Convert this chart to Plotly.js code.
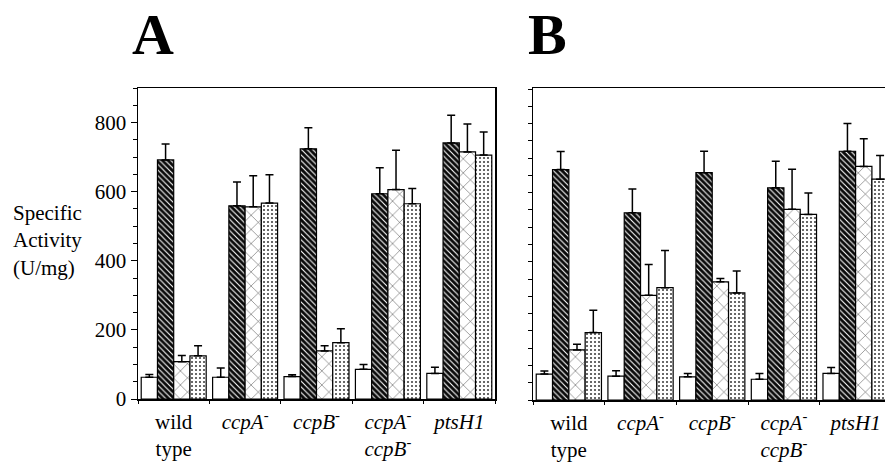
<!DOCTYPE html>
<html>
<head>
<meta charset="utf-8">
<script src="https://cdn.plot.ly/plotly-3.0.1.min.js"></script>
<style>html,body{margin:0;padding:0;background:#fff}#chart{width:885px;height:465px}</style>
</head>
<body>
<div id="chart"></div>
<script>
// ---- data ----
const groups = ['wild type', 'ccpA-', 'ccpB-', 'ccpA- ccpB-', 'ptsH1'];
const groupLabels = ['wild<br>type', '<i>ccpA</i><sup>-</sup>', '<i>ccpB</i><sup>-</sup>',
  '<i>ccpA</i><sup>-</sup><br><i>ccpB</i><sup>-</sup>', '<i>ptsH1</i>'];
const seriesNames = ['open', 'hatched', 'zigzag', 'dotted'];

// Panel A values and upper error
const aOpen = [63, 63, 65, 86, 74];
const aOpenErr = [8, 27, 5, 14, 18];
const aHatch = [692, 559, 724, 594, 741];
const aHatchErr = [46, 69, 61, 75, 80];
const aZig = [108, 556, 139, 606, 715];
const aZigErr = [18, 90, 15, 114, 81];
const aDot = [125, 567, 163, 565, 706];
const aDotErr = [29, 82, 40, 44, 67];

// Panel B values and upper error
const bOpen = [75, 69, 67, 60, 77];
const bOpenErr = [9, 16, 10, 17, 17];
const bHatch = [667, 542, 658, 614, 720];
const bHatchErr = [52, 69, 62, 77, 80];
const bZig = [145, 303, 342, 552, 676];
const bZigErr = [16, 89, 10, 116, 80];
const bDot = [195, 325, 310, 537, 639];
const bDotErr = [65, 108, 63, 62, 69];

const yTickVals = [0, 200, 400, 600, 800];
const yTickText = ['0', '200', '400', '600', '800'];

// ---- styles ----
const SERIF = '"Liberation Serif", "Times New Roman", serif';
const patterns = [
  {shape: '', bgcolor: '#ffffff'},
  {shape: '\\', bgcolor: '#0a0a0a', fgcolor: '#ffffff', size: 4, solidity: 0.28, fillmode: 'replace'},
  {shape: 'x', bgcolor: '#ffffff', fgcolor: '#444444', size: 10, solidity: 0.1, fillmode: 'replace'},
  {shape: '.', bgcolor: '#ffffff', fgcolor: '#444444', size: 4, solidity: 0.22, fillmode: 'replace'}
];

function mkTrace(vals, errs, idx, xa, ya) {
  return {
    type: 'bar', x: groups, y: vals, name: seriesNames[idx],
    xaxis: xa, yaxis: ya, showlegend: false,
    marker: {color: '#ffffff', line: {color: '#000', width: 1.2}, pattern: patterns[idx]},
    error_y: {type: 'data', symmetric: false, array: errs, arrayminus: errs.map(() => 0),
      color: '#000', thickness: 1.5, width: 4},
    hoverinfo: 'skip'
  };
}

const data = [
  mkTrace(aOpen, aOpenErr, 0, 'x', 'y'),
  mkTrace(aHatch, aHatchErr, 1, 'x', 'y'),
  mkTrace(aZig, aZigErr, 2, 'x', 'y'),
  mkTrace(aDot, aDotErr, 3, 'x', 'y'),
  mkTrace(bOpen, bOpenErr, 0, 'x2', 'y2'),
  mkTrace(bHatch, bHatchErr, 1, 'x2', 'y2'),
  mkTrace(bZig, bZigErr, 2, 'x2', 'y2'),
  mkTrace(bDot, bDotErr, 3, 'x2', 'y2')
];

const W = 885, H = 465;
const px = v => v / W;
const py = v => 1 - v / H;

const xCommon = {
  type: 'category', tickmode: 'array', tickvals: groups, ticktext: groupLabels,
  tickson: 'boundaries', ticks: 'outside', ticklen: 3, tickwidth: 1, tickcolor: '#000',
  showline: true, linecolor: '#000', linewidth: 1.5, mirror: true,
  showgrid: false, zeroline: false, fixedrange: true, ticklabelstandoff: 3,
  tickfont: {family: SERIF, size: 21, color: '#000'}
};

const layout = {
  width: W, height: H,
  margin: {l: 0, r: 0, t: 0, b: 0},
  paper_bgcolor: '#fff', plot_bgcolor: '#fff',
  barmode: 'group', bargap: 0.09, bargroupgap: 0,
  font: {family: SERIF, color: '#000'},
  xaxis: Object.assign({}, xCommon, {domain: [px(138), px(495)], range: [-0.5, 4.5], anchor: 'y'}),
  yaxis: {
    domain: [py(399), py(88)], range: [0, 900], anchor: 'x',
    tickmode: 'array', tickvals: yTickVals, ticktext: yTickText,
    ticks: 'outside', ticklen: 6, tickwidth: 1, tickcolor: '#000',
    minor: {dtick: 50, ticks: 'outside', ticklen: 4, tickcolor: '#000', showgrid: false},
    showline: true, linecolor: '#000', linewidth: 1.5, mirror: true,
    showgrid: false, zeroline: false, fixedrange: true,
    tickfont: {family: SERIF, size: 21, color: '#000'}
  },
  xaxis2: Object.assign({}, xCommon, {domain: [px(533), 1], range: [-0.5, 4.41], anchor: 'y2'}),
  yaxis2: {
    domain: [py(400), py(88)], range: [0, 903], anchor: 'x2',
    tickmode: 'linear', tick0: 0, dtick: 50, showticklabels: false,
    ticks: 'outside', ticklen: 4, tickwidth: 1, tickcolor: '#000',
    showline: true, linecolor: '#000', linewidth: 1.5, mirror: false,
    showgrid: false, zeroline: false, fixedrange: true
  },
  annotations: [
    {text: '<b>A</b>', xref: 'paper', yref: 'paper', x: px(153), y: 1, xanchor: 'center', yanchor: 'top',
      showarrow: false, font: {family: SERIF, size: 58, color: '#000'}},
    {text: '<b>B</b>', xref: 'paper', yref: 'paper', x: px(547), y: 1, xanchor: 'center', yanchor: 'top',
      showarrow: false, font: {family: SERIF, size: 58, color: '#000'}},
    {text: 'Specific<br>Activity<br>(U/mg)', xref: 'paper', yref: 'paper', x: px(11), y: py(240),
      xanchor: 'left', yanchor: 'middle', align: 'left', showarrow: false,
      font: {family: SERIF, size: 21, color: '#000'}}
  ]
};

Plotly.newPlot('chart', data, layout, {displayModeBar: false, staticPlot: true});
</script>
</body>
</html>
